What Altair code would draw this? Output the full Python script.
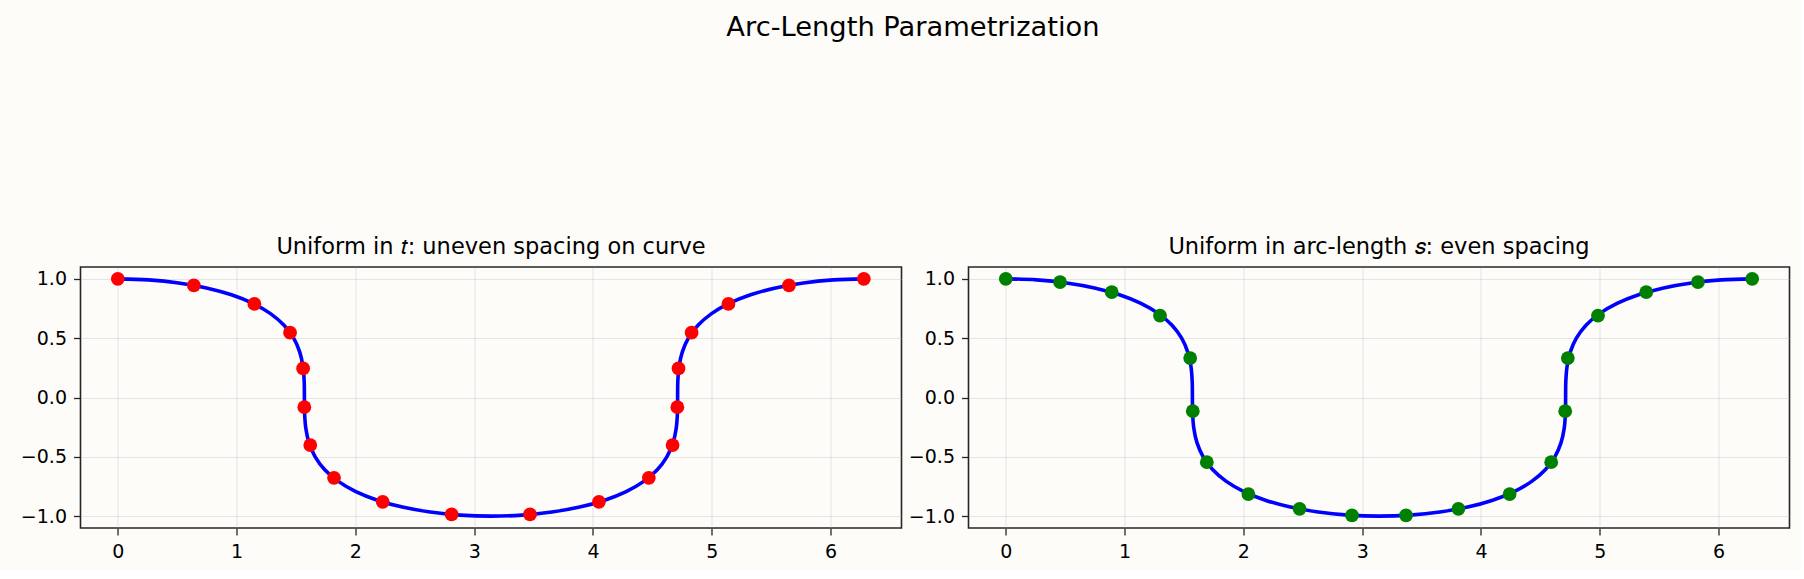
import altair as alt
import pandas as pd

# Blue parametric curve (points along the curve, in drawing order)
curve_x = [0.0, 0.2603, 0.5118, 0.7463, 0.9566, 1.1375, 1.2854, 1.3993, 1.4802, 1.5317,
           1.5590, 1.5693, 1.5708, 1.5723, 1.5826, 1.6099, 1.6614, 1.7423, 1.8562, 2.0041,
           2.1850, 2.3953, 2.6298, 2.8813, 3.1416, 3.4019, 3.6534, 3.8879, 4.0982, 4.2791,
           4.4270, 4.5409, 4.6218, 4.6733, 4.7006, 4.7109, 4.7124, 4.7139, 4.7242, 4.7515,
           4.8030, 4.8839, 4.9978, 5.1457, 5.3266, 5.5369, 5.7714, 6.0229, 6.2832]
curve_y = [1.0, 0.9914, 0.9659, 0.9239, 0.8660, 0.7934, 0.7071, 0.6088, 0.5, 0.3827,
           0.2588, 0.1305, 0.0, -0.1305, -0.2588, -0.3827, -0.5, -0.6088, -0.7071, -0.7934,
           -0.8660, -0.9239, -0.9659, -0.9914, -1.0, -0.9914, -0.9659, -0.9239, -0.8660, -0.7934,
           -0.7071, -0.6088, -0.5, -0.3827, -0.2588, -0.1305, 0.0, 0.1305, 0.2588, 0.3827,
           0.5, 0.6088, 0.7071, 0.7934, 0.8660, 0.9239, 0.9659, 0.9914, 1.0]

# Red points: uniform in t
t_x = [0.0, 0.64, 1.15, 1.45, 1.56, 1.57, 1.62, 1.82, 2.23, 2.81,
       3.47, 4.05, 4.47, 4.67, 4.71, 4.72, 4.83, 5.14, 5.65, 6.28]
t_y = [1.0, 0.946, 0.789, 0.546, 0.245, -0.082, -0.401, -0.677, -0.879, -0.986,
       -0.986, -0.879, -0.677, -0.401, -0.082, 0.245, 0.546, 0.789, 0.946, 1.0]

# Green points: uniform in arc length s
s_x = [0.0, 0.457, 0.892, 1.298, 1.552, 1.574, 1.692, 2.042, 2.473, 2.914,
       3.369, 3.810, 4.241, 4.591, 4.709, 4.731, 4.985, 5.391, 5.826, 6.283]
s_y = [1.0, 0.972, 0.888, 0.691, 0.332, -0.115, -0.545, -0.814, -0.938, -0.993,
       -0.993, -0.938, -0.814, -0.545, -0.115, 0.332, 0.691, 0.888, 0.972, 1.0]

x_ticks = [0, 1, 2, 3, 4, 5, 6]
y_ticks = [-1.0, -0.5, 0.0, 0.5, 1.0]

curve = pd.DataFrame({"i": list(range(len(curve_x))), "x": curve_x, "y": curve_y})
pts_t = pd.DataFrame({"x": t_x, "y": t_y})
pts_s = pd.DataFrame({"x": s_x, "y": s_y})

FONT = "DejaVu Sans"


def panel(pts, color, title):
    xenc = alt.X("x:Q",
                 scale=alt.Scale(domain=[-0.314, 6.597], nice=False, zero=False),
                 axis=alt.Axis(values=x_ticks, format="d", title=None))
    yenc = alt.Y("y:Q",
                 scale=alt.Scale(domain=[-1.1, 1.1], nice=False, zero=False),
                 axis=alt.Axis(values=y_ticks, format=".1f", title=None))
    line = alt.Chart(curve).mark_line(
        color="#0000ff", strokeWidth=3.6, interpolate="catmull-rom"
    ).encode(x=xenc, y=yenc, order="i:Q")
    dots = alt.Chart(pts).mark_circle(
        color=color, size=190, opacity=1
    ).encode(x=xenc, y=yenc)
    return alt.layer(line, dots).properties(
        width=821, height=261,
        title=alt.TitleParams(title, fontSize=22.5, font=FONT, fontWeight="normal",
                              color="#000000", offset=9, anchor="middle"),
    )


left = panel(pts_t, "#ff0000", "Uniform in 𝑡: uneven spacing on curve")
right = panel(pts_s, "#008000", "Uniform in arc-length 𝑠: even spacing")

chart = alt.hconcat(left, right, spacing=5).properties(
    title=alt.TitleParams("Arc-Length Parametrization", fontSize=27.3, font=FONT,
                          fontWeight="normal", color="#000000", offset=193.5,
                          anchor="middle", dx=8),
    padding={"left": 19.5, "top": 13, "right": 10.5, "bottom": 8},
    background="#fdfcf9",
).configure_view(
    stroke="#262626", strokeWidth=1.6
).configure_axis(
    domain=False,
    tickColor="#262626", tickSize=7, tickWidth=1.3,
    labelFont=FONT, labelFontSize=19, labelColor="#000000", labelPadding=7,
    labelFlush=False, labelOverlap=False,
    gridColor="#b0b0b0", gridOpacity=0.3, gridWidth=1,
)

chart.save("out.html", embed_options={"renderer": "svg", "actions": False})
